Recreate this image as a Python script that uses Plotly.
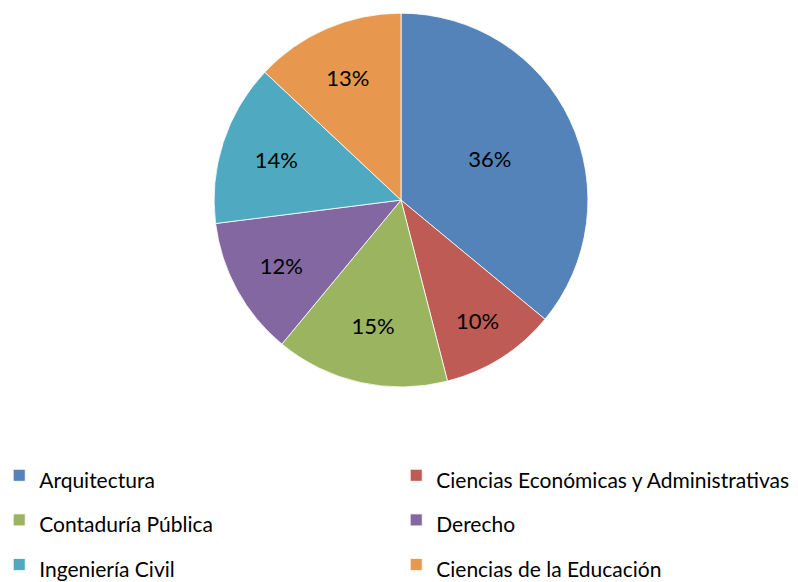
import plotly.graph_objects as go

carreras = ["Arquitectura", "Ciencias Económicas y Administrativas", "Contaduría Pública",
            "Derecho", "Ingeniería Civil", "Ciencias de la Educación"]
porcentajes = [36, 10, 15, 12, 14, 13]
colores = ["#5383B8", "#BE5B55", "#9BB45F", "#8367A1", "#4FA9C1", "#E7974E"]

# texto de leyenda mas pequeño que la fuente de la leyenda (para separar las filas)
etiquetas = ['<span style="font-size:21px">%s</span>' % c for c in carreras]

fig = go.Figure(go.Pie(
    labels=etiquetas, values=porcentajes, sort=False, direction="clockwise", rotation=0,
    marker=dict(colors=colores, line=dict(color="white", width=0.8)),
    texttemplate="%{percent:.0%}", textposition="inside", insidetextorientation="horizontal",
    textfont=dict(color="black", size=22),
    hovertemplate="%{label}: %{percent:.0%}<extra></extra>",
    domain=dict(x=[0.258, 0.727], y=[0.1227, 0.988]),
))

fig.update_layout(
    width=798, height=582, margin=dict(l=0, r=0, t=0, b=150, autoexpand=False),
    paper_bgcolor="white", plot_bgcolor="white",
    font=dict(family="Lato, Open Sans, sans-serif", size=18, color="black"),
    legend=dict(orientation="h", x=-0.011, y=-0.0185, xanchor="left", yanchor="top",
                entrywidth=352, entrywidthmode="pixels", itemwidth=30,
                font=dict(size=32), itemclick=False),
)

fig.write_html("out.html")
